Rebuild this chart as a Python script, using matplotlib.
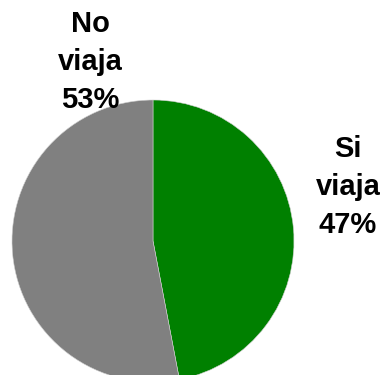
import matplotlib
matplotlib.use("Agg")
import matplotlib.pyplot as plt

categories = ["Si\nviaja", "No\nviaja"]
values = [47, 53]
colors = ["#008000", "#808080"]

W, H = 386, 375
fig = plt.figure(figsize=(W / 100, H / 100), dpi=100)
ax = fig.add_axes([0, 0, 1, 1])

# axes units are pixels, pie centred at the origin
cx, cy, r = 153, 241, 141
ax.set_xlim(-cx, W - cx)
ax.set_ylim(-(H - cy), cy)
ax.set_aspect("equal")
ax.axis("off")

ax.pie(values, colors=colors, startangle=90, counterclock=False,
       radius=r, center=(0, 0), frame=False,
       wedgeprops=dict(linewidth=0.4, edgecolor="#d0d0d0"))
ax.set_xlim(-cx, W - cx)
ax.set_ylim(-(H - cy), cy)

label_pos = [(348 - cx, cy - 187), (90 - cx, cy - 62)]
for cat, v, (lx, ly) in zip(categories, values, label_pos):
    ax.text(lx, ly, f"{cat}\n{v}%", ha="center", va="center",
            fontsize=21, fontweight="bold", family="Liberation Sans",
            linespacing=1.45, color="black")

fig.savefig("out.png", dpi=100)
